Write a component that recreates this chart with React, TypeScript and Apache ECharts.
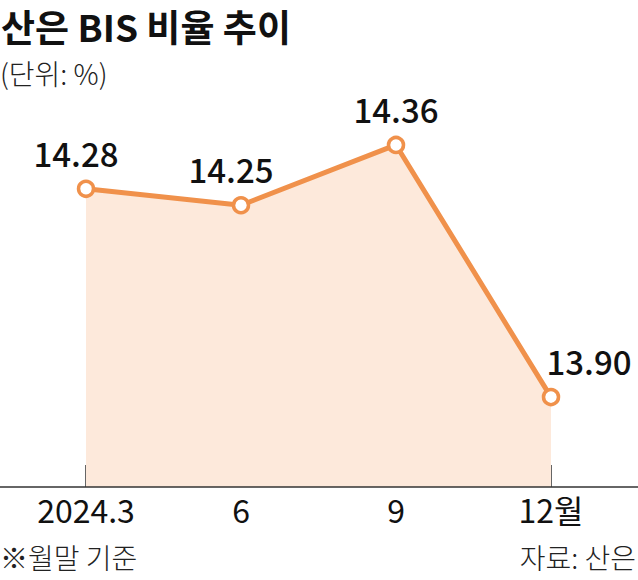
import React, { useEffect, useRef } from "react";
import * as echarts from "echarts";

const categories = ["2024.3", "6", "9", "12월"];
const values = [14.28, 14.25, 14.36, 13.9];
const valueLabels = ["14.28", "14.25", "14.36", "13.90"];
const labelOffsets: [number, number][] = [[-10, 0], [-10, 0], [0, 0], [38, -4]];

const KR = "'Noto Sans CJK KR', sans-serif";

export default function App() {
  const ref = useRef<HTMLDivElement>(null);
  useEffect(() => {
    document.body.style.margin = "0";
    const chart = echarts.init(ref.current!, null, { renderer: "svg" });
    const orange = "#F0914B";
    chart.setOption({
      animation: false,
      backgroundColor: "#ffffff",
      title: {
        text: "산은 BIS 비율 추이",
        left: 1,
        top: 4,
        padding: 0,
        textStyle: { fontFamily: KR, fontSize: 37, fontWeight: "bold", color: "#111", lineHeight: 44 },
      },
      grid: { left: 86, right: 87, top: 100, bottom: 93, containLabel: false },
      xAxis: {
        type: "category",
        data: categories,
        boundaryGap: false,
        axisLine: { show: false },
        axisTick: { show: true, inside: true, length: 22, alignWithLabel: true, lineStyle: { color: "#333", width: 1.5 } },
        axisLabel: { color: "#111", fontFamily: KR, fontSize: 32, margin: 6, interval: 0 },
      },
      yAxis: {
        type: "value",
        min: 13.736,
        max: 14.442,
        show: false,
        splitLine: { show: false },
      },
      series: [
        {
          type: "line",
          data: values.map((v, i) => ({
            value: v,
            label: {
              show: true,
              formatter: valueLabels[i],
              position: "top",
              offset: labelOffsets[i],
              distance: i === 3 ? 6 : 10,
            },
          })),
          lineStyle: { color: orange, width: 5 },
          itemStyle: { color: "#ffffff", borderColor: orange, borderWidth: 3.5 },
          symbol: "circle",
          symbolSize: 15,
          areaStyle: { color: "#FDE9DB", opacity: 1 },
          label: { color: "#111", fontFamily: KR, fontSize: 33, fontWeight: 500 },
          z: 3,
        },
      ],
      graphic: [
        { type: "line", shape: { x1: 0, y1: 487, x2: 638, y2: 487 }, style: { stroke: "#333", lineWidth: 1.5 }, z: 10 },
        {
          type: "text", left: 0, top: 59,
          style: { text: "(단위: %)", font: `300 28px ${KR}`, fill: "#222" },
        },
        {
          type: "text", left: 0, top: 543,
          style: { text: "※월말 기준", font: `300 28px ${KR}`, fill: "#222" },
        },
        {
          type: "text", right: 2, top: 543,
          style: { text: "자료: 산은", font: `300 28px ${KR}`, fill: "#222" },
        },
      ],
    });
    return () => chart.dispose();
  }, []);
  return <div ref={ref} style={{ width: 638, height: 580 }} />;
}
